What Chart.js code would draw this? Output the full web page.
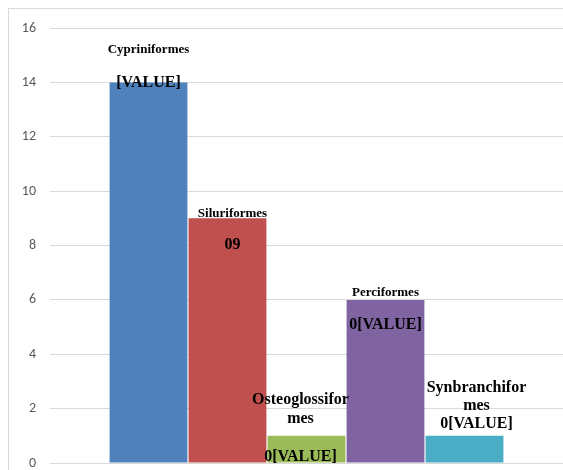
<!DOCTYPE html>
<html>
<head>
<meta charset="utf-8">
<script src="https://cdn.jsdelivr.net/npm/chart.js@4"></script>
<style>
  body { margin: 0; background: #fff; }
  #wrap { position: relative; width: 563px; height: 470px; }
  #frame { position: absolute; left: 8px; top: 8px; right: 0; bottom: 0;
           border-left: 1px solid #d9d9d9; border-top: 1px solid #d9d9d9; }
  canvas { display: block; }
</style>
</head>
<body>
<div id="wrap">
  <div id="frame"></div>
  <canvas id="chart" width="563" height="470"></canvas>
</div>
<script>
// fish orders and number of species
const categories = ['Cypriniformes', 'Siluriformes', 'Osteoglossiformes', 'Perciformes', 'Synbranchiformes'];
const values = [14, 9, 1, 6, 1];
const valueLabels = ['[VALUE]', '09', '0[VALUE]', '0[VALUE]', '0[VALUE]'];
const nameLines = [['Cypriniformes'], ['Siluriformes'], ['Osteoglossifor', 'mes'], ['Perciformes'], ['Synbranchifor', 'mes']];
const colors = ['#4F81BD', '#C0504D', '#9BBB59', '#8064A2', '#4BACC6'];
const yTicks = [0, 2, 4, 6, 8, 10, 12, 14, 16];

// where each label sits, relative to the top centre of its bar
const labelLayout = [
  { dx: 0,  nameDy: [-33],      nameSize: 13, valueDy: 0 },
  { dx: 5,  nameDy: [-5],       nameSize: 13, valueDy: 27 },
  { dx: -6, nameDy: [-36, -17], nameSize: 16, valueDy: 21 },
  { dx: 0,  nameDy: [-7],       nameSize: 13, valueDy: 25 },
  { dx: 12, nameDy: [-48, -30], nameSize: 16, valueDy: -12 }
];

const barLabels = {
  id: 'barLabels',
  afterDatasetsDraw(chart) {
    const ctx = chart.ctx;
    ctx.save();
    ctx.fillStyle = '#000';
    ctx.textAlign = 'center';
    ctx.textBaseline = 'middle';
    chart.data.datasets.forEach((ds, i) => {
      const bar = chart.getDatasetMeta(i).data[0];
      const l = labelLayout[i];
      ctx.font = 'bold ' + l.nameSize + 'px "Liberation Serif", "Times New Roman", serif';
      nameLines[i].forEach((line, k) => {
        ctx.fillText(line, bar.x + l.dx, bar.y + l.nameDy[k]);
      });
      ctx.font = 'bold 16px "Liberation Serif", "Times New Roman", serif';
      ctx.fillText(valueLabels[i], bar.x + l.dx, bar.y + l.valueDy);
    });
    ctx.restore();
  }
};

new Chart(document.getElementById('chart'), {
  type: 'bar',
  data: {
    labels: [''],
    datasets: categories.map((c, i) => ({
      label: c,
      data: [values[i]],
      backgroundColor: colors[i],
      categoryPercentage: 0.77,
      barPercentage: 0.985
    }))
  },
  options: {
    responsive: false,
    animation: false,
    layout: { padding: { left: 8, top: 28, right: 0, bottom: 7 } },
    plugins: { legend: { display: false }, tooltip: { enabled: false } },
    scales: {
      x: { display: false },
      y: {
        min: 0,
        max: 16,
        afterFit(scale) {
          scale.width = 42;
          scale.paddingTop = 0;
          scale.paddingBottom = 0;
        },
        afterBuildTicks(scale) { scale.ticks = yTicks.map(v => ({ value: v })); },
        border: { display: false },
        grid: { color: '#d9d9d9', drawTicks: true, tickLength: 14, tickColor: 'rgba(0,0,0,0)' },
        ticks: {
          padding: 0,
          color: '#595959',
          font: { family: 'Carlito, "Open Sans", "Liberation Sans", sans-serif', size: 14 }
        }
      }
    }
  },
  plugins: [barLabels]
});
</script>
</body>
</html>
